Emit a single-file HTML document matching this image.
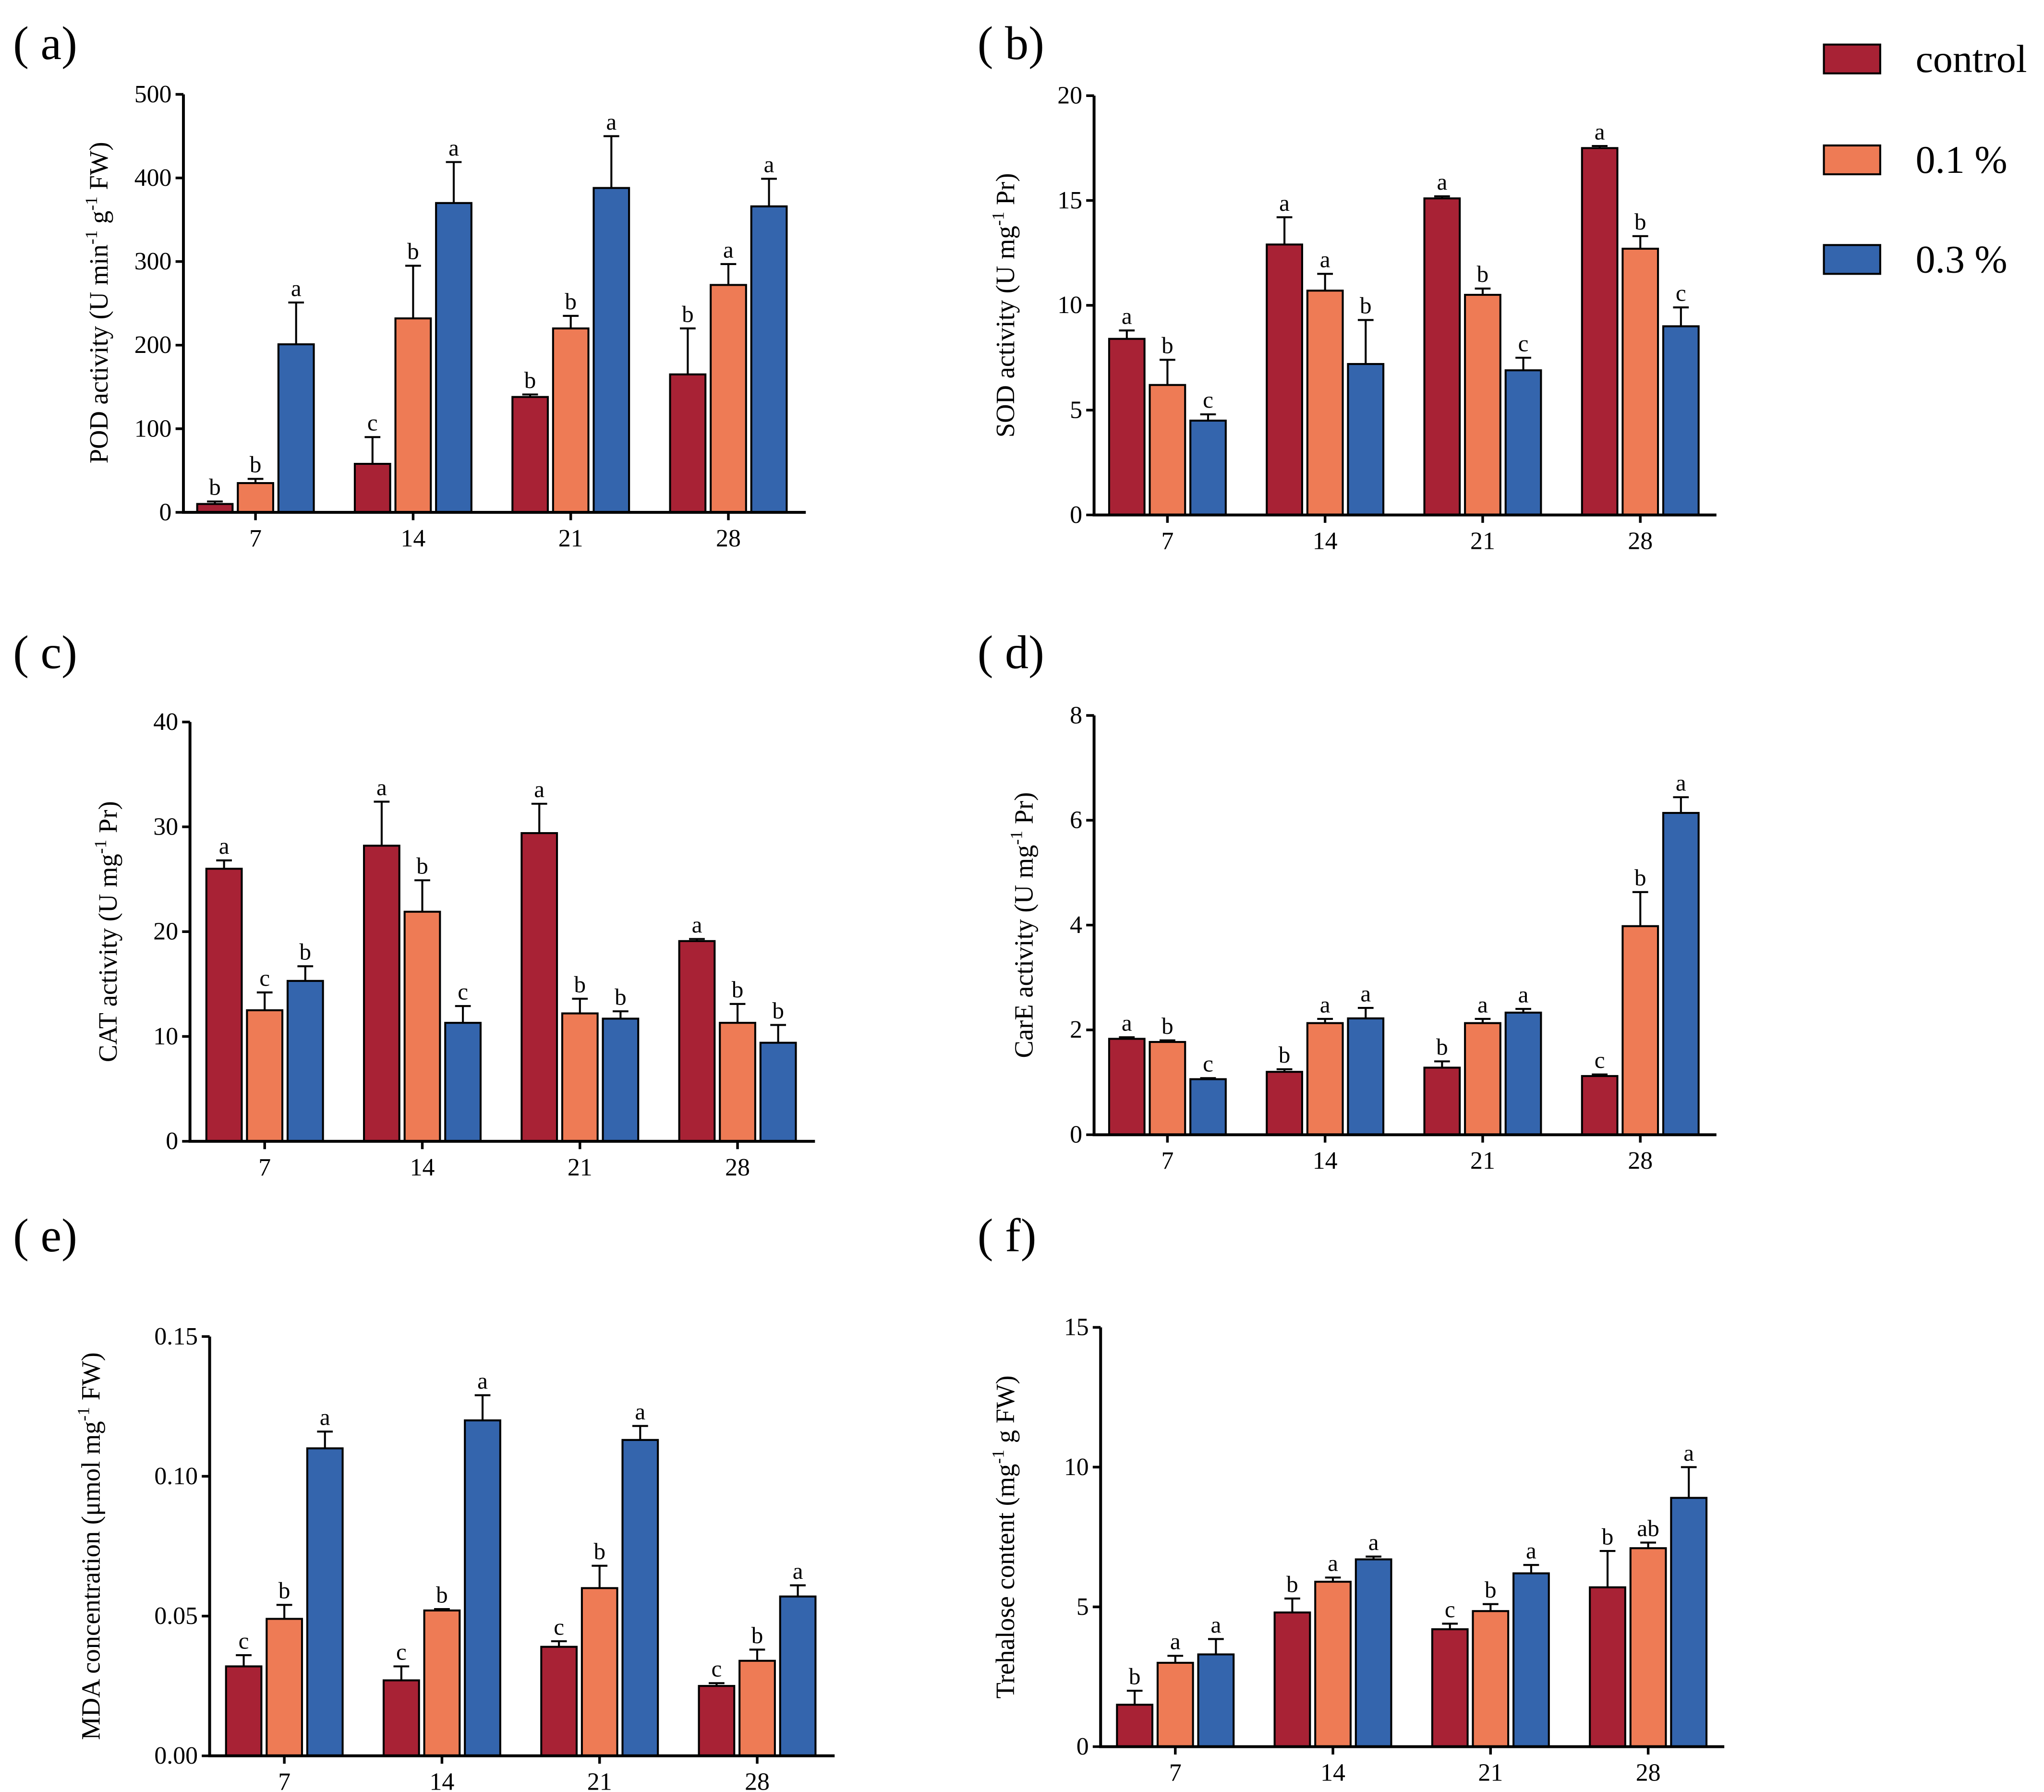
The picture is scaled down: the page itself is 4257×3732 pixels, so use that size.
<!DOCTYPE html>
<html><head><meta charset="utf-8"><style>
html,body{margin:0;padding:0;background:#fff}
svg{display:block}
text{font-family:"Liberation Serif",serif;fill:#000}
</style></head><body>
<svg id="fig" width="4257" height="3732" viewBox="0 0 1560 1367.6" xmlns="http://www.w3.org/2000/svg">
<g>
<rect x="1392" y="34" width="43" height="22" fill="#a82235" stroke="#000" stroke-width="1.5"/>
<text x="1462" y="55" font-size="30">control</text>
<rect x="1392" y="111" width="43" height="22" fill="#ee7b55" stroke="#000" stroke-width="1.5"/>
<text x="1462" y="132" font-size="30">0.1 %</text>
<rect x="1392" y="187" width="43" height="22" fill="#3465ad" stroke="#000" stroke-width="1.5"/>
<text x="1462" y="208" font-size="30">0.3 %</text>
</g>
</svg>
<script>
const categories = ["7","14","21","28"];
const seriesColors = ["#a82235","#ee7b55","#3465ad"];
// (a) POD
const aTicks = [0,100,200,300,400,500];
const aControl = [10,58,138,165], aControlErr = [3,32,3,55];
const aLow = [35,232,220,272], aLowErr = [5,63,15,25];
const aHigh = [201,370,388,366], aHighErr = [50,49,62,33];
const aLetters = [["b","c","b","b"],["b","b","b","a"],["a","a","a","a"]];
// (b) SOD
const bTicks = [0,5,10,15,20];
const bControl = [8.4,12.9,15.1,17.5], bControlErr = [0.4,1.3,0.1,0.1];
const bLow = [6.2,10.7,10.5,12.7], bLowErr = [1.2,0.8,0.3,0.6];
const bHigh = [4.5,7.2,6.9,9.0], bHighErr = [0.3,2.1,0.6,0.9];
const bLetters = [["a","a","a","a"],["b","a","b","b"],["c","b","c","c"]];
// (c) CAT
const cTicks = [0,10,20,30,40];
const cControl = [26,28.2,29.4,19.1], cControlErr = [0.8,4.2,2.8,0.2];
const cLow = [12.5,21.9,12.2,11.3], cLowErr = [1.7,3,1.4,1.8];
const cHigh = [15.3,11.3,11.7,9.4], cHighErr = [1.4,1.6,0.7,1.7];
const cLetters = [["a","a","a","a"],["c","b","b","b"],["b","c","b","b"]];
// (d) CarE
const dTicks = [0,2,4,6,8];
const dControl = [1.83,1.2,1.28,1.12], dControlErr = [0.03,0.05,0.12,0.03];
const dLow = [1.77,2.13,2.13,3.98], dLowErr = [0.03,0.08,0.08,0.65];
const dHigh = [1.06,2.22,2.33,6.14], dHighErr = [0.02,0.2,0.07,0.3];
const dLetters = [["a","b","b","c"],["b","a","a","b"],["c","a","a","a"]];
// (e) MDA
const eTicks = [0,0.05,0.10,0.15];
const eTickLabels = ["0.00","0.05","0.10","0.15"];
const eControl = [0.032,0.027,0.039,0.025], eControlErr = [0.004,0.005,0.002,0.001];
const eLow = [0.049,0.052,0.060,0.034], eLowErr = [0.005,0.0005,0.008,0.004];
const eHigh = [0.110,0.120,0.113,0.057], eHighErr = [0.006,0.009,0.005,0.004];
const eLetters = [["c","c","c","c"],["b","b","b","b"],["a","a","a","a"]];
// (f) Trehalose
const fTicks = [0,5,10,15];
const fControl = [1.5,4.8,4.2,5.7], fControlErr = [0.5,0.5,0.2,1.3];
const fLow = [3.0,5.9,4.85,7.1], fLowErr = [0.25,0.15,0.25,0.2];
const fHigh = [3.3,6.7,6.2,8.9], fHighErr = [0.55,0.1,0.3,1.1];
const fLetters = [["b","b","c","b"],["a","a","b","ab"],["a","a","a","a"]];

const NS = "http://www.w3.org/2000/svg";
const svg = document.getElementById("fig");
function mk(tag, attrs, parent){const e=document.createElementNS(NS,tag);for(const k in attrs)e.setAttribute(k,attrs[k]);parent.appendChild(e);return e;}

function panel(cfg){
  const g = mk("g",{},svg);
  
  
  const ymax = cfg.ticks[cfg.ticks.length-1];
  const yS = v => cfg.y0 - (v/ymax)*(cfg.y0-cfg.yTop);
  const xC = i => cfg.x7 + i*120.3;
  const lab = mk("text",{x:cfg.lx,y:cfg.ly,"font-size":36},g);
  lab.textContent = "( "+cfg.id+")";
  
  
  const series = cfg.series;
  series.forEach((s,si)=>{
    s.vals.forEach((v,i)=>{
      const cx = xC(i) + (si-1)*31;
      const top = yS(v);
      const r = mk("rect",{x:cx-13.5,y:top,width:27,height:cfg.y0-top,fill:seriesColors[si],stroke:"#000","stroke-width":1.5},g);
      
      
      const et = yS(v+s.err[i]);
      const eb = mk("path",{d:`M${cx} ${top}V${et}M${cx-6} ${et}H${cx+6}`,stroke:"#000","stroke-width":1.5,fill:"none"},g);
      
      
      const t = mk("text",{x:cx,y:et-5,"font-size":18,"text-anchor":"middle"},g);
      t.textContent = cfg.letters[si][i];
      
      
    });
  });
  const ax = mk("path",{d:`M${cfg.ax} ${cfg.yTop}V${cfg.y0}H${cfg.xEnd}`,stroke:"#000","stroke-width":2.2,fill:"none"},g);
  
  
  cfg.ticks.forEach((v,i)=>{
    const y = yS(v);
    mk("path",{d:`M${cfg.ax-6} ${y}H${cfg.ax}`,stroke:"#000","stroke-width":2},g);
    const t = mk("text",{x:cfg.ax-9,y:y+6,"font-size":19,"text-anchor":"end"},g);
    t.textContent = cfg.tickLabels ? cfg.tickLabels[i] : String(v);
    
    
  });
  categories.forEach((c,i)=>{
    const x = xC(i);
    mk("path",{d:`M${x} ${cfg.y0}V${cfg.y0+6}`,stroke:"#000","stroke-width":2},g);
    const t = mk("text",{x:x,y:cfg.y0+26,"font-size":19,"text-anchor":"middle"},g);
    t.textContent = c;
    
    
  });
  const yt = mk("text",{x:0,y:0,"font-size":20,"text-anchor":"middle",transform:`translate(${cfg.tx},${cfg.ty}) rotate(-90)`},g);
  yt.innerHTML = cfg.title;
  
  
}
const sup = s => `<tspan dy="-8" font-size="13">${s}</tspan><tspan dy="8"> </tspan>`;
panel({id:"a",lx:10,ly:45,ax:140,y0:391,yTop:72,xEnd:615,x7:195,ticks:aTicks,tx:82,ty:231,
  title:`POD activity (U min${sup("-1")}g${sup("-1")}FW)`,letters:aLetters,
  series:[{vals:aControl,err:aControlErr},{vals:aLow,err:aLowErr},{vals:aHigh,err:aHighErr}]});
panel({id:"b",lx:746,ly:45,ax:835,y0:393,yTop:73,xEnd:1310,x7:891,ticks:bTicks,tx:774,ty:233,
  title:`SOD activity (U mg${sup("-1")}Pr)`,letters:bLetters,
  series:[{vals:bControl,err:bControlErr},{vals:bLow,err:bLowErr},{vals:bHigh,err:bHighErr}]});
panel({id:"c",lx:10,ly:510,ax:145,y0:871,yTop:551,xEnd:622,x7:202,ticks:cTicks,tx:89,ty:711,
  title:`CAT activity (U mg${sup("-1")}Pr)`,letters:cLetters,
  series:[{vals:cControl,err:cControlErr},{vals:cLow,err:cLowErr},{vals:cHigh,err:cHighErr}]});
panel({id:"d",lx:746,ly:510,ax:835,y0:866,yTop:546,xEnd:1310,x7:891,ticks:dTicks,tx:788,ty:706,
  title:`CarE activity (U mg${sup("-1")}Pr)`,letters:dLetters,
  series:[{vals:dControl,err:dControlErr},{vals:dLow,err:dLowErr},{vals:dHigh,err:dHighErr}]});
panel({id:"e",lx:10,ly:955,ax:160,y0:1340,yTop:1020,xEnd:637,x7:217,ticks:eTicks,tickLabels:eTickLabels,tx:76,ty:1180,
  title:`MDA concentration (μmol mg${sup("-1")}FW)`,letters:eLetters,
  series:[{vals:eControl,err:eControlErr},{vals:eLow,err:eLowErr},{vals:eHigh,err:eHighErr}]});
panel({id:"f",lx:746,ly:955,ax:840,y0:1333,yTop:1013,xEnd:1316,x7:897,ticks:fTicks,tx:774,ty:1173,
  title:`Trehalose content (mg${sup("-1")}g FW)`,letters:fLetters,
  series:[{vals:fControl,err:fControlErr},{vals:fLow,err:fLowErr},{vals:fHigh,err:fHighErr}]});
</script>
</body></html>
